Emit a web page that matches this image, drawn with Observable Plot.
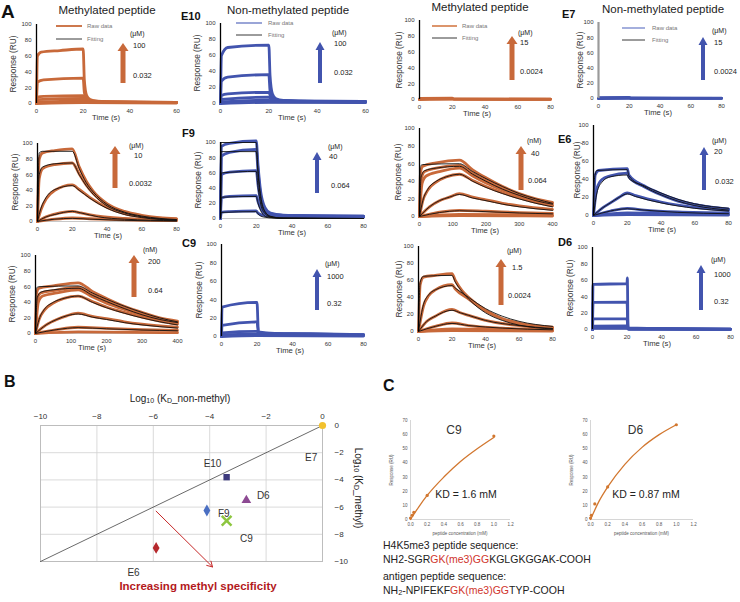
<!DOCTYPE html>
<html><head><meta charset="utf-8">
<script src="https://cdn.jsdelivr.net/npm/d3@7"></script>
<script src="https://cdn.jsdelivr.net/npm/@observablehq/plot@0.6"></script>
<style>
body{margin:0;background:#fff;font-family:"Liberation Sans",Arial,sans-serif;}
#fig{position:relative;width:740px;height:602px;overflow:hidden;background:#fff;}
.abs{position:absolute;white-space:nowrap;line-height:1;color:#222;}
.abs sub{font-size:70%;vertical-align:-0.2em;line-height:0;}
svg.pl{position:absolute;overflow:visible;}
.red{color:#d0342c;}
</style></head><body><div id="fig"></div><script>
// ---------------- DATA ----------------
const ORANGE = "#c8693a", BLUE = "#4254ae";
const yTicksA = [0, 20, 40, 60, 80, 100];
const xTicks60 = [0, 20, 40, 60];
const xTicks80 = [0, 20, 40, 60, 80];
const xTicks400 = [0, 100, 200, 300, 400];

// Panel A sensorgrams: each curve = list of [time (s), response (RU)]
const e10MethylRaw = [
  [[0,0],[0.4,60],[2,65],[10,67],[20,69],[20.5,30],[21.5,10],[23,5],[26,3],[35,2],[60,1.5]],
  [[0,0],[0.4,27],[3,30],[20,32],[20.5,14],[21.5,6],[23,4],[28,2.5],[60,1.5]],
  [[0,0],[0.4,8],[3,9],[20,10],[21,5],[23,3],[30,2],[60,1.5]],
  [[0,0],[0.5,5],[20,6.5],[21,4],[25,2.5],[60,1.2]],
  [[0,0],[1,2],[20,3],[22,2],[60,1]],
  [[0,0],[20,1],[60,0.5]]
];
const e10NonMethylRaw = [
  [[0,0],[0.4,60],[3,70],[20,73],[20.5,35],[21.5,12],[23,6],[26,4],[35,3],[60,2.5]],
  [[0,0],[0.4,28],[3,33],[20,36],[20.5,16],[21.5,7],[24,4],[35,3],[60,2.5]],
  [[0,0],[0.4,10],[3,12],[20,14],[21,7],[24,4],[60,2]],
  [[0,0],[0.5,5],[20,8],[21,5],[25,3],[60,2]],
  [[0,0],[1,2],[20,4],[22,2.5],[60,1.5]],
  [[0,0],[20,1.5],[60,1]]
];
const e7MethylRaw = [
  [[0,0],[0.3,1.5],[20,1.8],[21,0.6],[80,0.4]],
  [[0,0],[0.3,0.8],[20,1],[21,0.4],[80,0.3]],
  [[0,0],[20,0.4],[80,0.2]]
];
const e7NonMethylRaw = [
  [[0,0],[0.3,1.2],[20,1.5],[21,0.5],[80,0.4]],
  [[0,0],[0.3,0.6],[20,0.8],[21,0.3],[80,0.2]],
  [[0,0],[20,0.3],[80,0.1]]
];
const f9MethylRaw = [
  [[0,0],[1,80],[3,88],[10,91],[20,93],[24,70],[28,52],[32,39],[40,23],[50,13],[60,8],[70,5],[80,3.5]],
  [[0,0],[1,55],[3,68],[10,73],[20,75],[24,61],[28,47],[32,36],[40,21],[50,12],[60,7],[80,3]],
  [[0,0],[2,15],[5,29],[10,40],[20,47],[24,41],[30,31],[40,18],[50,10],[60,6],[80,2.5]],
  [[0,0],[5,6],[10,9.5],[20,13],[25,11],[35,7],[50,4],[80,1.5]],
  [[0,0],[10,3],[20,4.5],[30,3.5],[50,2],[80,1]]
];
const f9MethylFit = [
  [[0,0],[1,88],[3,90],[20,90],[24,68],[28,50],[32,38],[40,22],[50,12],[60,7],[80,2.5]],
  [[0,0],[1,60],[3,70],[10,74],[20,75],[24,60],[28,46],[32,35],[40,20],[50,11],[60,6],[80,2]],
  [[0,0],[2,17],[5,31],[10,41],[20,46],[24,40],[30,30],[40,17],[50,9],[60,5],[80,1.5]],
  [[0,0],[5,6],[10,9],[20,13],[25,11],[35,6],[50,3],[80,1]],
  [[0,0],[10,3],[20,4],[30,3],[50,1.5],[80,0.5]]
];
const f9NonMethylRaw = [
  [[0,0],[0.5,95],[5,99],[20,102],[21,70],[22.5,35],[25,14],[28,7],[35,4.5],[50,3.5],[80,3]],
  [[0,0],[0.5,82],[5,87],[20,91],[21,62],[22.5,30],[25,12],[28,6],[35,4],[80,3]],
  [[0,0],[0.5,58],[5,61],[20,63],[21,44],[22.5,22],[25,9],[28,5],[35,4],[80,2.5]],
  [[0,0],[0.5,27],[5,29],[20,30],[21,22],[23,11],[26,5],[35,3],[80,2]],
  [[0,0],[0.5,8],[5,9],[20,10],[21,7],[24,4],[35,2.5],[80,1.5]]
];
const f9NonMethylFit = [
  [[0,0],[0.3,100],[20,100],[21,65],[22.5,30],[25,9],[28,3],[35,0.5],[80,0]],
  [[0,0],[0.3,88],[20,88],[21,58],[22.5,26],[25,8],[28,2.5],[35,0.5],[80,0]],
  [[0,0],[0.5,60],[20,62],[21,41],[22.5,19],[25,6],[28,2],[35,0.3],[80,0]],
  [[0,0],[0.5,28],[20,29],[21,20],[23,8],[26,2],[35,0.2],[80,0]],
  [[0,0],[0.5,8],[20,9],[21,6],[24,2],[30,0.5],[80,0]]
];
const c9MethylRaw = [
  [[0,0],[3,50],[10,57],[50,61],[120,64],[160,53],[200,44],[250,34],[300,26],[350,20],[400,16]],
  [[0,0],[5,42],[15,51],[50,55],[120,58],[160,49],[200,41],[250,32],[300,25],[350,19],[400,15]],
  [[0,0],[8,38],[20,46],[60,51],[120,55],[160,46],[200,38],[250,30],[300,23],[350,17],[400,13]],
  [[0,0],[10,18],[25,30],[50,39],[80,45],[120,48],[160,41],[200,34],[250,27],[300,21],[350,16],[400,12]],
  [[0,0],[30,11],[60,18],[90,22],[120,26],[160,22],[200,19],[250,15],[300,12],[400,8]],
  [[0,0],[60,5],[120,7],[200,6],[300,4.5],[400,3.5]],
  [[0,0],[120,2.5],[400,1.5]],
  [[0,0],[120,1],[400,0.5]]
];
const c9MethylFit = [
  [[0,0],[2,57],[10,59],[120,60],[160,51],[200,43],[250,34],[300,26],[350,20],[400,15]],
  [[0,0],[5,45],[15,52],[50,55],[120,57],[160,48],[200,40],[250,31],[300,24],[350,18],[400,14]],
  [[0,0],[10,18],[25,31],[50,40],[80,45],[120,48],[160,40],[200,33],[250,26],[300,20],[350,15],[400,11]],
  [[0,0],[30,11],[60,18],[90,22],[120,25],[160,21],[200,18],[250,14],[300,11],[400,7]],
  [[0,0],[60,4.5],[120,6.5],[200,5.5],[300,4],[400,3]]
];
const e6NonMethylRaw = [
  [[0,0],[1,45],[3,50],[20,52],[21,45],[30,33],[40,24],[50,17],[60,12],[70,9],[80,7]],
  [[0,0],[2,30],[5,40],[10,44],[20,47],[21,43],[30,32],[40,23],[50,16],[60,12],[80,7]],
  [[0,0],[5,8],[10,14],[15,20],[20,25],[25,22],[40,15],[60,9],[80,5.5]],
  [[0,0],[10,5],[20,8],[30,6],[50,4],[80,3]],
  [[0,0],[20,3],[50,2],[80,1.5]],
  [[0,0],[20,1],[80,0.5]]
];
const e6NonMethylFit = [
  [[0,0],[0.5,40],[2,50],[20,51],[21,44],[30,32],[40,23],[50,16],[60,11],[70,8],[80,6]],
  [[0,0],[2,25],[5,37],[10,43],[20,45],[21,41],[30,33],[40,25],[50,18],[60,13],[80,8]],
  [[0,0],[5,8],[10,14],[15,20],[20,24],[25,21],[40,14],[60,8],[80,5]],
  [[0,0],[10,5],[20,7.5],[30,6],[50,3.5],[80,2]]
];
const e6MethylRaw = [
  [[0,0],[3,52],[10,58],[50,61],[120,65],[160,54],[200,45],[250,35],[300,27],[350,20],[400,16]],
  [[0,0],[5,44],[15,52],[50,55],[120,59],[160,50],[200,42],[250,33],[300,25],[350,19],[400,15]],
  [[0,0],[8,40],[20,48],[60,52],[120,56],[160,47],[200,39],[250,31],[300,24],[350,18],[400,14]],
  [[0,0],[10,18],[25,30],[50,39],[80,45],[120,48],[160,41],[200,34],[250,27],[300,21],[350,16],[400,12]],
  [[0,0],[30,11],[60,18],[90,23],[120,26],[160,22],[200,19],[250,15],[300,12],[400,8]],
  [[0,0],[60,5],[120,8],[200,6.5],[300,5],[400,4]],
  [[0,0],[120,2],[400,1]]
];
const e6MethylFit = [
  [[0,0],[2,58],[10,60],[120,61],[160,52],[200,44],[250,35],[300,27],[350,20],[400,15]],
  [[0,0],[5,46],[15,53],[50,56],[120,58],[160,49],[200,41],[250,32],[300,24],[350,18],[400,14]],
  [[0,0],[10,18],[25,31],[50,40],[80,45],[120,48],[160,40],[200,33],[250,26],[300,20],[350,15],[400,11]],
  [[0,0],[30,11],[60,18],[90,23],[120,25],[160,21],[200,18],[250,14],[300,11],[400,7]],
  [[0,0],[60,5],[120,7.5],[200,6],[300,4.5],[400,3.5]]
];
const c9NonMethylRaw = [
  [[0,0],[0.3,32],[20,37],[20.8,5],[30,3.5],[50,3],[80,2]],
  [[0,0],[0.3,12],[20,16],[20.8,4],[40,3],[80,2]],
  [[0,0],[0.3,4],[20,5.5],[21,3],[80,1.5]],
  [[0,0],[0.3,2],[20,2.5],[21,1.5],[80,1]],
  [[0,0],[20,1],[80,0.5]]
];
const d6MethylRaw = [
  [[0,0],[1,55],[3,64],[10,66],[20,68],[22,60],[26,48],[30,40],[40,25],[50,15],[60,9],[70,6],[80,4.5]],
  [[0,0],[3,30],[6,42],[10,49],[20,55],[22,50],[30,38],[40,24],[50,15],[60,10],[80,5]],
  [[0,0],[5,12],[10,18],[20,26],[25,22],[30,19],[40,13],[60,7],[80,4]],
  [[0,0],[10,6],[20,10],[30,7],[50,4],[80,2]],
  [[0,0],[20,3],[50,2],[80,1]],
  [[0,0],[20,1],[80,0.5]]
];
const d6MethylFit = [
  [[0,0],[1,58],[3,65],[20,66],[22,58],[26,47],[30,38],[40,22],[50,13],[60,7.5],[70,4.5],[80,3]],
  [[0,0],[3,32],[6,43],[10,49],[20,54],[22,51],[30,40],[40,27],[50,18],[60,12],[80,6]],
  [[0,0],[5,12],[10,18],[20,25],[25,22],[30,19],[40,13],[60,7],[80,3.5]],
  [[0,0],[10,6],[20,9.5],[30,7],[50,4],[80,2]]
];
const d6NonMethylRaw = [
  [[0,0],[0.3,55],[20,56],[20.2,63],[20.6,2],[80,0.5]],
  [[0,0],[0.3,33],[20,33.5],[20.6,1.5],[80,0.5]],
  [[0,0],[0.3,13],[20,13],[20.6,1],[80,0.3]],
  [[0,0],[0.3,4],[20,4.5],[20.6,0.5],[80,0.2]],
  [[0,0],[0.3,1.5],[20,1.5],[21,0.3],[80,0.1]]
];
// concentration range labels
const concUnits = ["(μM)","(μM)","(μM)","(μM)","(μM)","(μM)","(nM)","(μM)","(nM)","(μM)","(μM)","(μM)"];
const concHigh = ["100","100","15","15","10","40","40","20","200","1000","1.5","1000"];
const concLow = ["0.032","0.032","0.0024","0.0024","0.0032","0.064","0.064","0.032","0.64","0.32","0.0024","0.32"];

// Panel B
const clones = ["E7","E10","D6","F9","C9","E6"];
const logKdNonMethyl = [0, -3.4, -2.7, -4.1, -3.4, -5.9];
const logKdMethyl = [0, -3.8, -5.5, -6.25, -7.0, -9.0];
const cloneSymbols = ["circle","square","triangle","diamond","times","diamond"];
const cloneColors = ["#f2c12e","#3d3a7c","#8d4a93","#4a6fc2","#8dc63f","#b5282c"];
const labelX = [-0.4, -3.9, -2.1, -3.5, -2.7, -6.7];
const labelY = [-2.35, -2.8, -5.2, -6.5, -8.3, -10.8];
const bTicks = [-10, -8, -6, -4, -2, 0];
const specArrow = [{x1: -5.9, y1: -6.3, x2: -3.9, y2: -10.4}];

// Panel C
const cTicksX = [0, 0.2, 0.4, 0.6, 0.8, 1, 1.2];
const cTicksY = [0, 10, 20, 30, 40, 50, 60, 70];
const c9Conc = [0, 0.02, 0.04, 0.2, 1.0];
const c9Resp = [1, 3, 5, 17, 59];
const c9FitConc = [0, 0.1, 0.2, 0.4, 0.6, 0.8, 1.0];
const c9FitResp = [0, 9, 17, 30, 41, 50, 58];
const d6Conc = [0, 0.01, 0.05, 0.2, 1.0];
const d6Resp = [1, 3, 11, 23, 67];
const d6FitConc = [0, 0.1, 0.2, 0.4, 0.6, 0.8, 1.0];
const d6FitResp = [0, 13, 23, 39, 51, 60, 67];

// ---------------- RENDER ----------------
const fig = document.getElementById("fig");
const FONT = '"Liberation Sans", Arial, sans-serif';
function txt(s, x, y, o = {}) {
  const d = document.createElement("div");
  d.className = "abs"; d.innerHTML = s;
  d.style.left = x + "px"; d.style.top = y + "px";
  d.style.fontSize = (o.size || 8) + "px";
  if (o.weight) d.style.fontWeight = o.weight;
  if (o.color) d.style.color = o.color;
  const tx = o.anchor === "middle" ? "-50%" : o.anchor === "end" ? "-100%" : "0";
  d.style.transform = `translate(${o.rotate ? "-50%" : tx},-50%)` + (o.rotate ? ` rotate(${o.rotate}deg)` : "");
  fig.appendChild(d);
  return d;
}
function place(chart, left, top) {
  chart.classList.add("pl");
  chart.style.left = left + "px"; chart.style.top = top + "px";
  fig.appendChild(chart);
}
function rowsOf(curves) {
  const out = [];
  (curves || []).forEach((c, k) => c.forEach(([t, v]) => out.push({t, v, k})));
  return out;
}

const panels = [
  {box:[36,176,24,103], xd:[0,60], xt:xTicks60, color:ORANGE, raw:e10MethylRaw, yt:13},
  {box:[220,365,23,103], xd:[0,60], xt:xTicks60, color:BLUE, raw:e10NonMethylRaw, yt:197},
  {box:[419,550,20,99], xd:[0,80], xt:xTicks80, color:ORANGE, raw:e7MethylRaw, yt:399},
  {box:[598,721,22,98], xd:[0,80], xt:xTicks80, color:BLUE, raw:e7NonMethylRaw, yt:580, axisGray:true},
  {box:[37,176,143,221], xd:[0,80], xt:xTicks80, color:ORANGE, raw:f9MethylRaw, fit:f9MethylFit, yt:15},
  {box:[220,363,142,218], xd:[0,80], xt:xTicks80, color:BLUE, raw:f9NonMethylRaw, fit:f9NonMethylFit, yt:198},
  {box:[419,552,128,216], xd:[0,400], xt:xTicks400, color:ORANGE, raw:c9MethylRaw, fit:c9MethylFit, yt:398},
  {box:[593,728,125,215], xd:[0,80], xt:xTicks80, color:BLUE, raw:e6NonMethylRaw, fit:e6NonMethylFit, yt:577},
  {box:[35,177,255,333], xd:[0,400], xt:xTicks400, color:ORANGE, raw:e6MethylRaw, fit:e6MethylFit, yt:12},
  {box:[221,363,244,336], xd:[0,80], xt:xTicks80, color:BLUE, raw:c9NonMethylRaw, yt:199},
  {box:[418,552,246,331], xd:[0,80], xt:xTicks80, color:ORANGE, raw:d6MethylRaw, fit:d6MethylFit, yt:399},
  {box:[592,730,247,329], xd:[0,80], xt:xTicks80, color:BLUE, raw:d6NonMethylRaw, yt:570}
];
// annotation layout: [unit x,y], [high x,y], [low x,y], arrow [x, top, bottom]
const annot = [
  {u:[130,33], h:[133,46], l:[133,76], a:[123,43,83]},
  {u:[332,32], h:[334,44], l:[334,73], a:[320,42,83]},
  {u:[518,32], h:[520,43], l:[520,72], a:[512,36,80]},
  {u:[712,30], h:[714,43], l:[714,72], a:[703,37,80]},
  {u:[129,145], h:[134,156], l:[129,184], a:[115,146,188]},
  {u:[328,146], h:[329,157], l:[331,186], a:[317,152,193]},
  {u:[527,140], h:[531,154], l:[528,181], a:[521,146,190]},
  {u:[712,140], h:[714,152], l:[715,182], a:[704,147,190]},
  {u:[143,249], h:[148,262], l:[148,291], a:[134,255,297]},
  {u:[325,263], h:[327,277], l:[327,304], a:[317,269,310]},
  {u:[507,250], h:[512,268], l:[508,296], a:[501,259,305]},
  {u:[711,259], h:[714,275], l:[714,302], a:[701,265,310]}
];
const timeLabelX = [106, 292, 477, 658, 108, 292, 485, 662, 92, 290, 482, 657];

const overlay = d3.create("svg").attr("width", 740).attr("height", 602)
  .style("position","absolute").style("left","0px").style("top","0px").style("z-index", 5);

panels.forEach((p, i) => {
  const ml = 30, mr = 4, mt = 4, mb = 22;
  const w = p.box[1] - p.box[0], h = p.box[3] - p.box[2];
  const chart = Plot.plot({
    width: w + ml + mr, height: h + mt + mb,
    marginLeft: ml, marginRight: mr, marginTop: mt, marginBottom: mb,
    style: {fontSize: "6px", fontFamily: FONT, color: "#333", background: "transparent", overflow: "visible"},
    x: {domain: p.xd, ticks: p.xt, tickSize: 0, tickPadding: 5, label: null},
    y: {domain: [0, 100], ticks: yTicksA, tickSize: 0, tickPadding: 5, label: null},
    marks: [
      Plot.ruleY([0], {stroke: "#c8c8c8", strokeWidth: 1}),
      Plot.line(rowsOf(p.raw), {x: "t", y: "v", z: "k", stroke: p.color, strokeWidth: 2.8, curve: "monotone-x"}),
      Plot.line(rowsOf(p.fit), {x: "t", y: "v", z: "k", stroke: "#111", strokeWidth: 0.9, curve: "monotone-x"}),
      Plot.ruleX([0], {stroke: p.axisGray ? "#9a9a9a" : "#000", strokeWidth: p.axisGray ? 2.2 : 1.3})
    ]
  });
  place(chart, p.box[0] - ml, p.box[2] - mt);
  txt("Response (RU)", p.yt, (p.box[2] + p.box[3]) / 2, {size: 8.3, rotate: -90, color: "#333"});
  txt("Time (s)", timeLabelX[i], p.box[3] + 15, {size: 7.7, anchor: "middle", color: "#333"});
  const a = annot[i];
  txt(concUnits[i], a.u[0], a.u[1], {size: 7});
  txt(concHigh[i], a.h[0], a.h[1], {size: 7.5});
  txt(concLow[i], a.l[0], a.l[1], {size: 7.5});
  const sw = p.color === ORANGE ? 5 : 4, hw = p.color === ORANGE ? 11 : 9, hh = 8;
  overlay.append("rect").attr("x", a.a[0] - sw / 2).attr("y", a.a[1] + hh - 1).attr("width", sw)
    .attr("height", a.a[2] - a.a[1] - hh + 1).attr("fill", p.color);
  overlay.append("path").attr("d", `M${a.a[0]},${a.a[1]} L${a.a[0] + hw / 2},${a.a[1] + hh} L${a.a[0] - hw / 2},${a.a[1] + hh} Z`)
    .attr("fill", p.color);
});

// legends in first row
const legendPos = [[56,82,26,39,87,ORANGE],[236,262,23,35,268,"#8f9bd3"],[432,457,26,38,462,"#d98a5c"],[622,645,28,40,652,"#9aa6da"]];
legendPos.forEach(([x1,x2,yr,yf,tx,c]) => {
  overlay.append("line").attr("x1",x1).attr("x2",x2).attr("y1",yr).attr("y2",yr).attr("stroke",c).attr("stroke-width",1.8);
  overlay.append("line").attr("x1",x1).attr("x2",x2).attr("y1",yf).attr("y2",yf).attr("stroke","#222").attr("stroke-width",0.9);
  txt("Raw data", tx, yr, {size: 6, color: "#777"});
  txt("Fitting", tx, yf, {size: 6, color: "#777"});
});
fig.appendChild(overlay.node());

// titles & labels panel A
txt("A", 1, 11, {size: 19, weight: "bold", color: "#111"});
txt("Methylated peptide", 107, 11, {size: 11.5, anchor: "middle"});
txt("Non-methylated peptide", 288, 11, {size: 11.5, anchor: "middle"});
txt("Methylated peptide", 480, 8, {size: 11.5, anchor: "middle"});
txt("Non-methylated peptide", 663, 10, {size: 11.5, anchor: "middle"});
const cloneTags = [["E10",181,16],["E7",562,14],["F9",182,133],["E6",558,139],["C9",182,243],["D6",558,242]];
cloneTags.forEach(([s,x,y]) => txt(s, x, y, {size: 11, weight: "bold", color: "#111"}));

// ---------------- Panel B ----------------
const bBox = {x0: 40, x1: 322, y0: 425, y1: 561};
{
  const ml = 20, mr = 30, mt = 18, mb = 30;
  const pts = clones.map((c, i) => ({name: c, x: logKdNonMethyl[i], y: logKdMethyl[i], lx: labelX[i], ly: labelY[i], sym: cloneSymbols[i], col: cloneColors[i]}));
  const diag = bTicks.filter((v, i) => i === 0 || i === bTicks.length - 1).map(v => ({x: v, y: v}));
  const chart = Plot.plot({
    width: bBox.x1 - bBox.x0 + ml + mr, height: bBox.y1 - bBox.y0 + mt + mb,
    marginLeft: ml, marginRight: mr, marginTop: mt, marginBottom: mb,
    style: {fontSize: "8px", fontFamily: FONT, color: "#333", background: "transparent", overflow: "visible"},
    x: {domain: [-10, 0], ticks: bTicks, axis: "top", tickSize: 0, tickPadding: 7, label: null},
    y: {domain: [-10, 0], ticks: bTicks, axis: "right", tickSize: 0, tickPadding: 12, label: null},
    marks: [
      Plot.ruleX(bTicks, {stroke: "#d0d0d0", strokeWidth: 0.8}),
      Plot.ruleY(bTicks, {stroke: "#d0d0d0", strokeWidth: 0.8}),
      Plot.frame({stroke: "#bdbdbd"}),
      Plot.line(diag, {x: "x", y: "y", stroke: "#444", strokeWidth: 0.8}),
      ...pts.map(p => Plot.dot([p], {x: "x", y: "y", symbol: p.sym, fill: p.col, r: p.sym === "times" ? 4.5 : 3.6, stroke: p.sym === "times" ? p.col : "none", strokeWidth: p.sym === "times" ? 2.5 : 0})),
      Plot.text(pts, {x: "lx", y: "ly", text: "name", fontSize: 10, fill: "#333"}),
      Plot.arrow(specArrow, {x1: "x1", y1: "y1", x2: "x2", y2: "y2", stroke: "#c62828", strokeWidth: 1, headLength: 9})
    ]
  });
  place(chart, bBox.x0 - ml, bBox.y0 - mt);
  txt("B", 4, 382, {size: 16, weight: "bold", color: "#111"});
  txt("Log<sub>10</sub> (K<sub>D</sub>_non-methyl)", 180, 399, {size: 10, anchor: "middle"});
  txt("Log<sub>10</sub> (K<sub>D</sub>_methyl)", 358, 488, {size: 10, rotate: 90});
  txt("Increasing methyl specificity", 198, 587, {size: 11.5, weight: "bold", color: "#b3191c", anchor: "middle"});
}

// ---------------- Panel C ----------------
function cPlot(conc, resp, fitC, fitR, box, tag, kd) {
  const ml = 14, mr = 6, mt = 4, mb = 14;
  const pts = conc.map((c, i) => ({c, r: resp[i]}));
  const fit = fitC.map((c, i) => ({c, r: fitR[i]}));
  const chart = Plot.plot({
    width: box[1] - box[0] + ml + mr, height: box[3] - box[2] + mt + mb,
    marginLeft: ml, marginRight: mr, marginTop: mt, marginBottom: mb,
    style: {fontSize: "4.5px", fontFamily: FONT, color: "#555", background: "transparent", overflow: "visible"},
    x: {domain: [0, 1.2], ticks: cTicksX, tickSize: 0, tickPadding: 3, label: null},
    y: {domain: [0, 70], ticks: cTicksY, tickSize: 0, tickPadding: 3, label: null},
    marks: [
      Plot.ruleX([0], {stroke: "#bbb", strokeWidth: 0.6}),
      Plot.ruleY([0], {stroke: "#bbb", strokeWidth: 0.6}),
      Plot.line(fit, {x: "c", y: "r", stroke: "#d2772f", strokeWidth: 1.3, curve: "monotone-x"}),
      Plot.dot(pts, {x: "c", y: "r", fill: "#d2772f", r: 1.6})
    ]
  });
  place(chart, box[0] - ml, box[2] - mt);
  txt(tag, (box[0] + box[1]) / 2 - 6, box[2] + 10, {size: 12, anchor: "middle", color: "#333"});
  txt(kd, box[0] + 56, box[2] + 74, {size: 10.5, anchor: "middle", color: "#222"});
  txt("Response (RU)", box[0] - 18, (box[2] + box[3]) / 2, {size: 4.5, rotate: -90, color: "#555"});
  txt("peptide concentration (mM)", (box[0] + box[1]) / 2, box[3] + 15, {size: 4.5, anchor: "middle", color: "#555"});
}
cPlot(c9Conc, c9Resp, c9FitConc, c9FitResp, [410, 510, 420, 519], "C9", "KD = 1.6 mM");
cPlot(d6Conc, d6Resp, d6FitConc, d6FitResp, [590, 693, 420, 519], "D6", "KD = 0.87 mM");
txt("C", 383, 386, {size: 16, weight: "bold", color: "#111"});
txt("H4K5me3 peptide sequence:", 383, 545, {size: 10.5});
txt('NH2-SGR<span class="red">GK(me3)GG</span>KGLGKGGAK-COOH', 383, 559, {size: 10.5});
txt("antigen peptide sequence:", 383, 576, {size: 10.5});
txt('NH<sub>2</sub>-NPIFEKF<span class="red">GK(me3)GG</span>TYP-COOH', 383, 590, {size: 10.5});
</script></body></html>
